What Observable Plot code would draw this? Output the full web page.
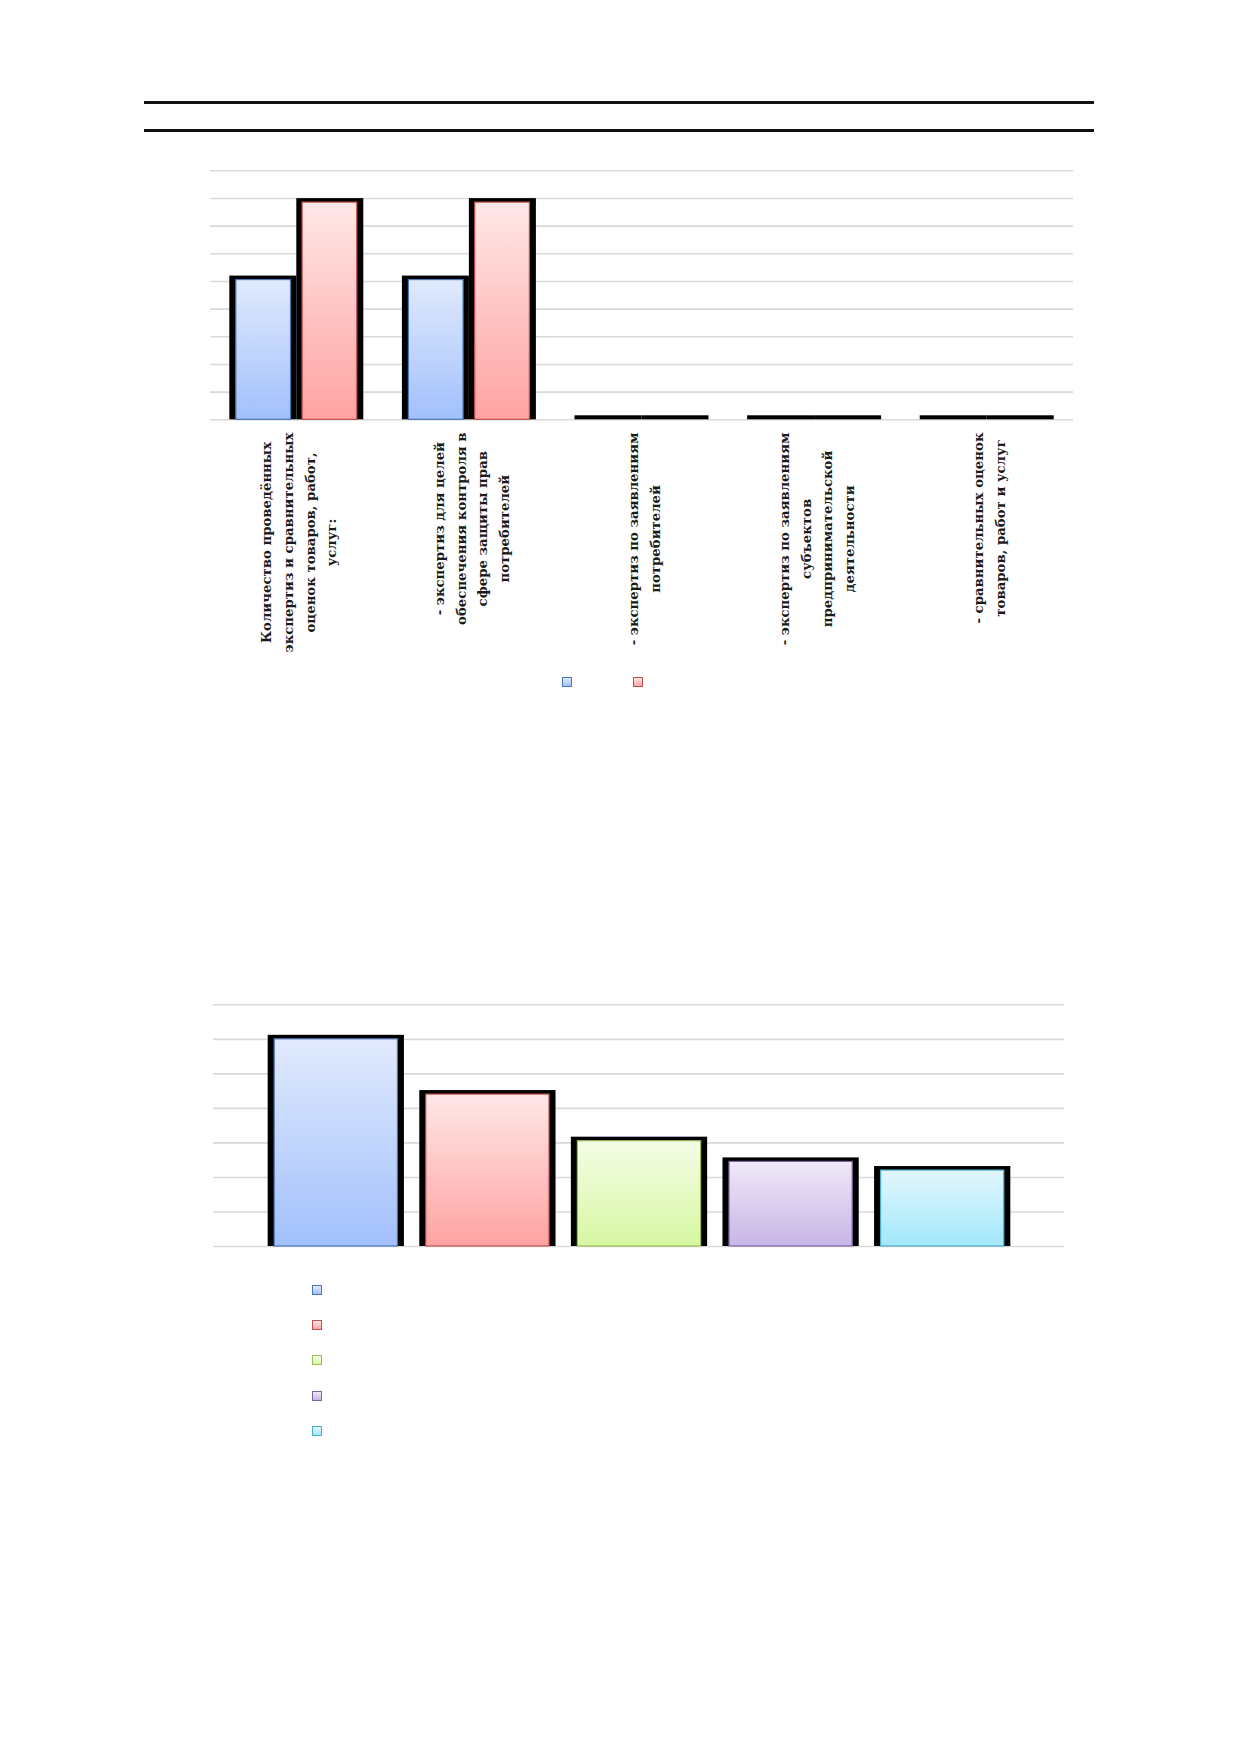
<!DOCTYPE html>
<html>
<head>
<meta charset="utf-8">
<script src="https://cdn.jsdelivr.net/npm/d3@7"></script>
<script src="https://cdn.jsdelivr.net/npm/@observablehq/plot@0.6"></script>
<style>
  html, body { margin: 0; padding: 0; background: #fff; }
  #page { position: relative; width: 1237px; height: 1754px; overflow: hidden; }
  .hline { position: absolute; left: 144px; width: 950px; height: 3px; background: #111; }
  .chart { position: absolute; left: 0; }
  .chart svg { overflow: visible; }
  .sw { position: absolute; width: 8px; height: 8px; border: 1.5px solid; }
</style>
</head>
<body>
<div id="page">
  <svg width="0" height="0" style="position:absolute">
    <defs id="grads"></defs>
  </svg>
  <div class="hline" style="top:101px"></div>
  <div class="hline" style="top:129.3px"></div>
  <div class="chart" id="c1" style="top:150px"></div>
  <div class="chart" id="c2" style="top:980px"></div>
</div>
<script>
// ---------- Chart 1 data ----------
const categories1 = [
  "Количество проведённых экспертиз и сравнительных оценок товаров, работ, услуг:",
  "- экспертиз для целей обеспечения контроля в сфере защиты прав потребителей",
  "- экспертиз по заявлениям потребителей",
  "- экспертиз по заявлениям субъектов предпринимательской деятельности",
  "- сравнительных оценок товаров, работ и услуг"
];
const tickLabels1 = [
  "Количество проведённых\nэкспертиз и сравнительных\nоценок товаров, работ,\nуслуг:",
  "- экспертиз для целей\nобеспечения контроля в\nсфере защиты прав\nпотребителей",
  "- экспертиз по заявлениям\nпотребителей",
  "- экспертиз по заявлениям\nсубъектов\nпредпринимательской\nдеятельности",
  "- сравнительных оценок\nтоваров, работ и услуг"
];
const valuesSeriesA = [50.5, 50.5, 0, 0, 0];
const valuesSeriesB = [78.5, 78.5, 0, 0, 0];
const yMax1 = 90;

// ---------- Chart 2 data ----------
const categories2 = ["1", "2", "3", "4", "5"];
const values2 = [60, 44, 30.5, 24.5, 22];
const yMax2 = 70;

// ---------- Styles ----------
const palette = [
  {id: "gBlue",   top: "#e1eafd", bottom: "#a2c0fc", border: "#4a76b8"},
  {id: "gRed",    top: "#ffe7e7", bottom: "#ffa2a2", border: "#c0504d"},
  {id: "gGreen",  top: "#f4fde5", bottom: "#d7f7a2", border: "#9bbb59"},
  {id: "gPurple", top: "#efe9f8", bottom: "#c8b5e6", border: "#8064a2"},
  {id: "gCyan",   top: "#e2f7fd", bottom: "#a2e8fb", border: "#4bacc6"}
];
const defs = d3.select("#grads");
for (const p of palette) {
  const g = defs.append("linearGradient").attr("id", p.id)
    .attr("x1", 0).attr("y1", 0).attr("x2", 0).attr("y2", 1);
  g.append("stop").attr("offset", "0%").attr("stop-color", p.top);
  g.append("stop").attr("offset", "100%").attr("stop-color", p.bottom);
}

const gridStyle = {stroke: "#d9d9d9", strokeOpacity: 1, strokeWidth: 1.6};

// label font and measurement (labels are top-aligned, lines centred)
const labelFontSize = 13.3;
const labelFontFamily = "DejaVu Serif";
const ctx = document.createElement("canvas").getContext("2d");
ctx.font = `bold ${labelFontSize}px "${labelFontFamily}"`;
const labelGap = 12.7;
const labelDy = tickLabels1.map(t => labelGap + d3.max(t.split("\n"), s => ctx.measureText(s).width) / 2);

// ---------- Chart 1 ----------
const data1A = categories1.map((c, i) => ({cat: c, value: valuesSeriesA[i]}));
const data1B = categories1.map((c, i) => ({cat: c, value: valuesSeriesB[i]}));
const W = 1237;
const mL1 = 210, mR1 = W - 1073;
const pad1 = 0.299;
const bw1 = ((W - mL1 - mR1) / categories1.length) * (1 - pad1);
const half = bw1 / 2;
const gap = 5.8, side = 6.5, topB = 4;

const plot1 = Plot.plot({
  width: W,
  height: 520,
  marginLeft: mL1,
  marginRight: mR1,
  marginTop: 20.3,
  marginBottom: 250.7,
  style: {background: "transparent", overflow: "visible"},
  x: {domain: categories1, paddingInner: pad1, paddingOuter: pad1 / 2, round: false, axis: null},
  y: {domain: [0, yMax1], axis: null},
  marks: [
    Plot.gridY({ticks: 9, ...gridStyle}),
    Plot.barY(data1A, {x: "cat", y: "value", fill: "#000", insetLeft: -side, insetRight: half, insetTop: -topB}),
    Plot.barY(data1B, {x: "cat", y: "value", fill: "#000", insetLeft: half, insetRight: -side, insetTop: -topB}),
    Plot.barY(data1A, {filter: d => d.value > 0, x: "cat", y: "value", fill: "url(#gBlue)", stroke: palette[0].border, strokeWidth: 1.2, insetLeft: 0, insetRight: half + gap}),
    Plot.barY(data1B, {filter: d => d.value > 0, x: "cat", y: "value", fill: "url(#gRed)", stroke: palette[1].border, strokeWidth: 1.2, insetLeft: half + gap, insetRight: 0}),
    ...categories1.map((c, i) => Plot.text([c], {
      x: d => d,
      text: () => tickLabels1[i],
      frameAnchor: "bottom",
      dy: labelDy[i],
      rotate: -90,
      textAnchor: "middle",
      lineAnchor: "middle",
      lineHeight: 1.63,
      fontSize: labelFontSize,
      fontWeight: "bold",
      fontFamily: labelFontFamily,
      fill: "#1a1a1a"
    }))
  ]
});
document.getElementById("c1").appendChild(plot1);

// ---------- Chart 2 ----------
const data2 = categories2.map((c, i) => ({cat: c, value: values2[i], idx: i}));
const mL2 = 213, mR2 = W - 1064;
const pad2 = 0.187;

const plot2 = Plot.plot({
  width: W,
  height: 280,
  marginLeft: mL2,
  marginRight: mR2,
  marginTop: 24.3,
  marginBottom: 14,
  style: {background: "transparent", overflow: "visible"},
  x: {domain: categories2, paddingInner: pad2, paddingOuter: pad2 / 2, insetLeft: 47, insetRight: 46, round: false, axis: null},
  y: {domain: [0, yMax2], axis: null},
  color: {type: "identity"},
  marks: [
    Plot.gridY({ticks: 7, ...gridStyle}),
    Plot.barY(data2, {x: "cat", y: "value", fill: "#000", insetLeft: -side, insetRight: -side, insetTop: -topB}),
    Plot.barY(data2, {x: "cat", y: "value", fill: d => `url(#${palette[d.idx].id})`, stroke: d => palette[d.idx].border, strokeWidth: 1.2})
  ]
});
document.getElementById("c2").appendChild(plot2);

// ---------- Legends (labels are empty in the reference) ----------
const page = document.getElementById("page");
function swatch(cx, cy, p) {
  const s = document.createElement("div");
  s.className = "sw";
  s.style.left = (cx - 5.5) + "px";
  s.style.top = (cy - 5.5) + "px";
  s.style.borderColor = p.border;
  s.style.background = `linear-gradient(${p.top}, ${p.bottom})`;
  page.appendChild(s);
}
const legend1X = [567, 638];
swatch(legend1X[0], 682, palette[0]);
swatch(legend1X[1], 682, palette[1]);
const legend2Y = [1290, 1325.3, 1360.7, 1396, 1431.3];
legend2Y.forEach((y, i) => swatch(317.2, y, palette[i]));
</script>
</body>
</html>
